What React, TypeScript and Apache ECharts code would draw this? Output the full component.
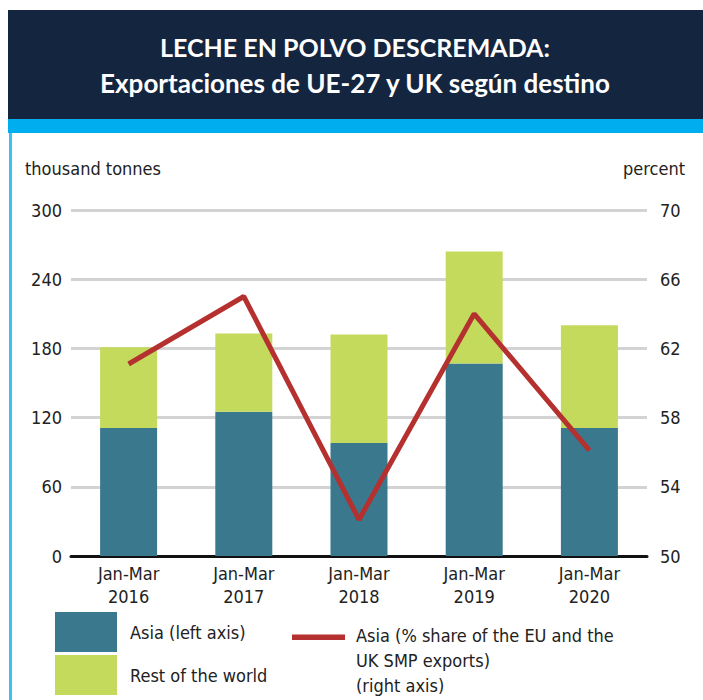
import React, { useEffect, useRef } from "react";
import * as echarts from "echarts";

const categories = ["Jan-Mar\n2016", "Jan-Mar\n2017", "Jan-Mar\n2018", "Jan-Mar\n2019", "Jan-Mar\n2020"];
const asiaTonnes = [111, 125, 98, 167, 111];
const restTonnes = [70, 68, 94, 97, 89];
const asiaShare = [61.1, 65.0, 52.1, 64.0, 56.1];
const leftTicks = [0, 300, 60];
const rightTicks = [50, 70, 4];

const FONT = "'DejaVu Sans Condensed', sans-serif";
const LINE_NAME = "Asia (% share of the EU and the\nUK SMP exports)\n(right axis)";

export default function App() {
  const ref = useRef<HTMLDivElement>(null);
  useEffect(() => {
    if (!ref.current) return;
    const chart = echarts.init(ref.current, null, { renderer: "svg" });
    chart.setOption({
      animation: false,
      backgroundColor: "#ffffff",
      textStyle: { fontFamily: FONT },
      grid: { left: 71, right: 56, top: 210, bottom: 144, containLabel: false },
      graphic: [
        { type: "rect", shape: { x: 8, y: 10, width: 695, height: 109 }, style: { fill: "#14253f" }, z: 1 },
        { type: "rect", shape: { x: 8, y: 119, width: 695, height: 14 }, style: { fill: "#00aeef" }, z: 1 },
        { type: "rect", shape: { x: 9, y: 133, width: 3, height: 567 }, style: { fill: "#3fc0f0" }, z: 1 },
        {
          type: "text", x: 355, y: 47, z: 2,
          style: { text: "LECHE EN POLVO DESCREMADA:", fill: "#ffffff", font: "bold 25px Lato, sans-serif", align: "center", verticalAlign: "middle" },
        },
        {
          type: "text", x: 355, y: 83, z: 2,
          style: { text: "Exportaciones de UE-27 y UK según destino", fill: "#ffffff", font: "bold 26px Lato, sans-serif", align: "center", verticalAlign: "middle" },
        },
        {
          type: "text", x: 25, y: 168, z: 2,
          style: { text: "thousand tonnes", fill: "#222222", font: "18px " + FONT, align: "left", verticalAlign: "middle" },
        },
        {
          type: "text", x: 685, y: 168, z: 2,
          style: { text: "percent", fill: "#222222", font: "18px " + FONT, align: "right", verticalAlign: "middle" },
        },
      ],
      legend: [
        {
          data: ["Asia (left axis)", "Rest of the world"],
          orient: "vertical",
          left: 55,
          top: 612,
          itemWidth: 62,
          itemHeight: 40,
          itemGap: 3,
          icon: "rect",
          padding: 0,
          textStyle: { fontSize: 18, color: "#222222", fontFamily: FONT, padding: [0, 0, 0, 8] },
        },
        {
          data: [{ name: LINE_NAME, icon: "path://M0,0 L0.01,0 L0,0 Z M0,2 L53,2 L53,7.5 L0,7.5 Z M0,56 L0.01,56 L0,56 Z" }],
          left: 292,
          top: 623,
          itemWidth: 53,
          itemHeight: 56,
          padding: 0,
          textStyle: { fontSize: 18, lineHeight: 25, color: "#222222", fontFamily: FONT, padding: [0, 0, 0, 6] },
        },
      ],
      xAxis: {
        type: "category",
        data: categories,
        axisLine: { lineStyle: { color: "#111111", width: 3 } },
        axisTick: { show: false },
        axisLabel: { fontSize: 18, lineHeight: 23, color: "#222222", margin: 6, fontFamily: FONT },
      },
      yAxis: [
        {
          type: "value",
          min: leftTicks[0],
          max: leftTicks[1],
          interval: leftTicks[2],
          axisLine: { show: false },
          axisTick: { show: false },
          splitLine: { lineStyle: { color: "#d3d3d3", width: 3 } },
          axisLabel: { fontSize: 18, color: "#222222", margin: 9, fontFamily: FONT },
        },
        {
          type: "value",
          min: rightTicks[0],
          max: rightTicks[1],
          interval: rightTicks[2],
          axisLine: { show: false },
          axisTick: { show: false },
          splitLine: { show: false },
          axisLabel: { fontSize: 18, color: "#222222", margin: 13, fontFamily: FONT },
        },
      ],
      series: [
        {
          name: "Asia (left axis)",
          type: "bar",
          stack: "total",
          data: asiaTonnes,
          barWidth: 57,
          itemStyle: { color: "#3a788e" },
        },
        {
          name: "Rest of the world",
          type: "bar",
          stack: "total",
          data: restTonnes,
          barWidth: 57,
          itemStyle: { color: "#c4da5c" },
        },
        {
          name: LINE_NAME,
          type: "line",
          yAxisIndex: 1,
          data: asiaShare,
          symbol: "none",
          lineStyle: { color: "#b5312f", width: 5 },
          itemStyle: { color: "#b5312f" },
          z: 5,
        },
      ],
    });
    return () => chart.dispose();
  }, []);
  return <div ref={ref} style={{ width: 703, height: 700, position: "absolute", left: 0, top: 0 }} />;
}
